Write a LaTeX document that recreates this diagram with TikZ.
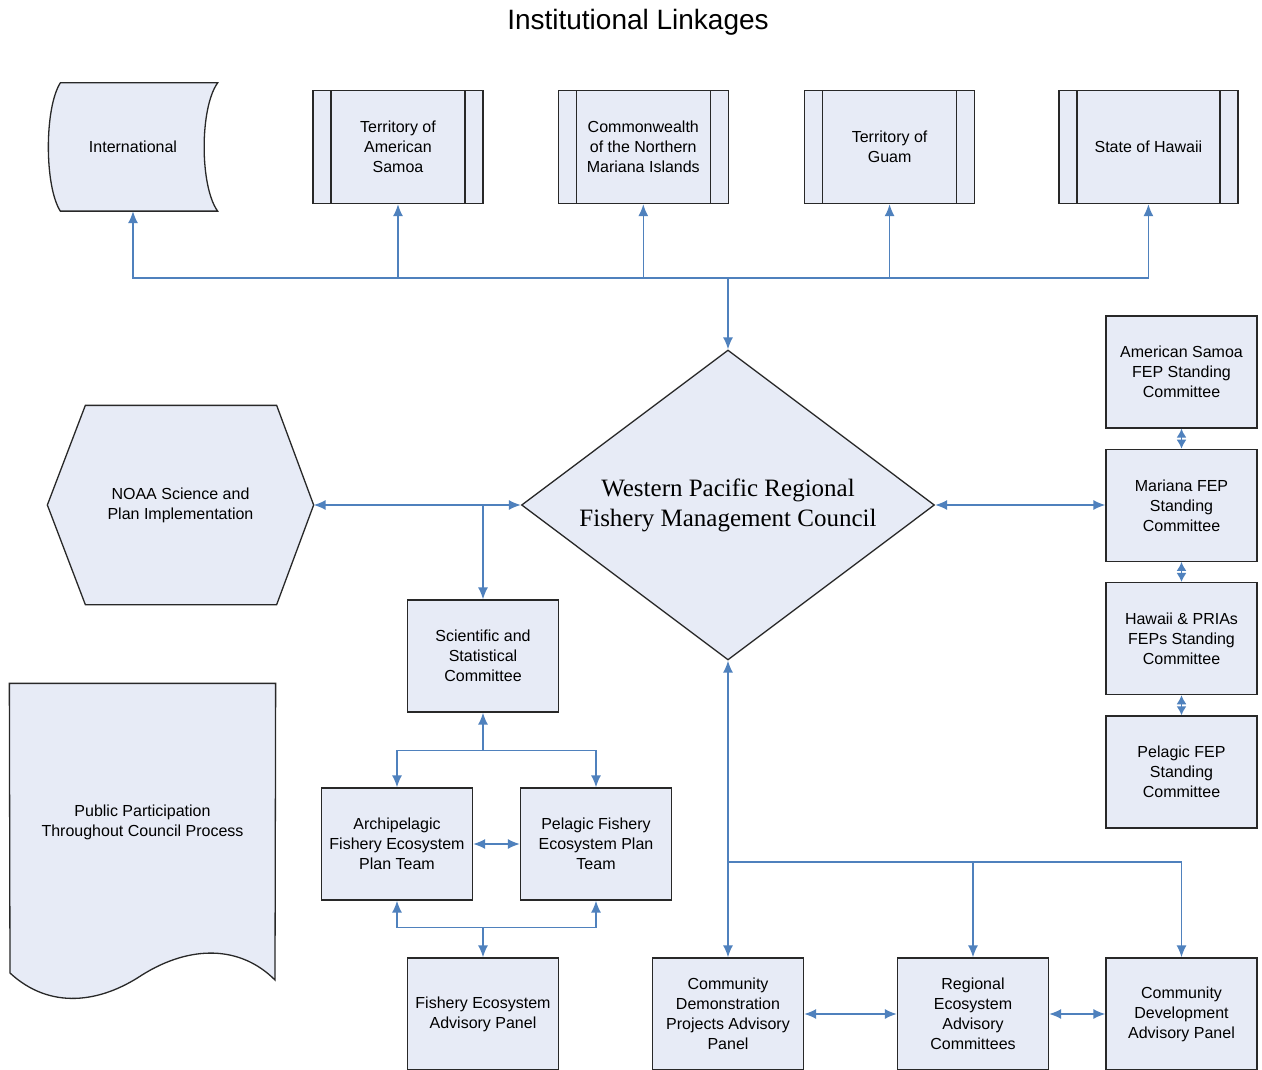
\documentclass[tikz,border=0pt]{standalone}
\usepackage{fontspec}
\setmainfont{Liberation Sans}
\newfontfamily\councilfont{Liberation Serif}
\usetikzlibrary{positioning,arrows.meta,shapes.geometric,backgrounds,calc}

\definecolor{boxfill}{RGB}{231,235,246}
\definecolor{linkblue}{RGB}{79,129,189}
\definecolor{boxline}{RGB}{40,40,40}

\tikzset{
  unit/.style={draw=boxline, line width=1.3pt, fill=boxfill, align=center,
    font=\fontsize{16}{20}\selectfont, inner sep=2pt},
  committee/.style={unit, rectangle, minimum width=151pt, minimum height=112pt},
  agency/.style={unit, rectangle, minimum width=170pt, minimum height=113pt,
    path picture={\draw[boxline, line width=1.3pt]
      ([xshift=18pt]path picture bounding box.north west) -- ([xshift=18pt]path picture bounding box.south west)
      ([xshift=-18pt]path picture bounding box.north east) -- ([xshift=-18pt]path picture bounding box.south east);}},
  freeform/.style={unit, draw=none, fill=none},
  outline/.style={draw=boxline, line width=1.3pt, fill=boxfill},
  link/.style={draw=linkblue, line width=1.5pt, -{Latex[length=12pt,width=10pt]}},
  twoway/.style={draw=linkblue, line width=1.5pt, {Latex[length=12pt,width=10pt]}-{Latex[length=12pt,width=10pt]}},
  shortlink/.style={draw=linkblue, line width=1.5pt, {Latex[length=9pt,width=10pt]}-{Latex[length=9pt,width=10pt]}},
}

\begin{document}
\begin{tikzpicture}[x=1pt,y=-1pt]
    \useasboundingbox (0,0) rectangle (1262,1070);
    \node[font=\fontsize{28}{34}\selectfont] (title) at (638,22) {Institutional Linkages};

    % top row
    \node[freeform, minimum width=168pt, minimum height=127pt] (intl) at (133,147) {International};
    \node[agency] (samoa) at (398,147) {Territory of\\American\\Samoa};
    \node[agency, right=74pt of samoa] (cnmi) {Commonwealth\\of the Northern\\Mariana Islands};
    \node[agency, right=75pt of cnmi] (guam) {Territory of\\Guam};
    \node[agency, minimum width=179pt, right=83pt of guam] (hawaii) {State of Hawaii};

    % council and left side
    \node[unit, diamond, aspect=1.33, minimum width=413pt, minimum height=310pt, inner sep=0pt,
          font=\councilfont\fontsize{25}{30}\selectfont] (council) at (728,505)
          {Western Pacific Regional\\Fishery Management Council};
    \node[freeform, minimum width=265pt, minimum height=198pt] (noaa) at (180.5,505) {NOAA Science and\\Plan Implementation};
    \node[freeform, minimum width=265pt, minimum height=276pt] (public) at (142.5,822) {Public Participation\\Throughout Council Process};

    \node[committee] (ssc) at (483,656) {Scientific and\\Statistical\\Committee};
    \node[committee] (archteam) at (397,844) {Archipelagic\\Fishery Ecosystem\\Plan Team};
    \node[committee] (pelteam) at (596,844) {Pelagic Fishery\\Ecosystem Plan\\Team};
    \node[committee] (feap) at (483,1014) {Fishery Ecosystem\\Advisory Panel};

    % right column
    \node[committee] (ascomm) at (1181.5,372) {American Samoa\\FEP Standing\\Committee};
    \node[committee, below=20pt of ascomm] (marcomm) {Mariana FEP\\Standing\\Committee};
    \node[committee, below=20pt of marcomm] (hawcomm) {Hawaii \& PRIAs\\FEPs Standing\\Committee};
    \node[committee, below=20pt of hawcomm] (pelcomm) {Pelagic FEP\\Standing\\Committee};

    % bottom row
    \node[committee] (cdpap) at (728,1014) {Community\\Demonstration\\Projects Advisory\\Panel};
    \node[committee] (reac) at (973,1014) {Regional\\Ecosystem\\Advisory\\Committees};
    \node[committee] (cdap) at (1181.5,1014) {Community\\Development\\Advisory Panel};

    % odd outlines
    \begin{scope}[on background layer]
        \fill[white] (0,0) rectangle (1262,1070);
        \draw[outline] ($(intl.north west)+(12,0)$) -- (intl.north east)
            .. controls ($(intl.north east)+(-18,25)$) and ($(intl.south east)+(-18,-25)$) .. (intl.south east)
            -- ($(intl.south west)+(12,0)$)
            .. controls ($(intl.south west)+(-4,-25)$) and ($(intl.north west)+(-4,25)$) .. cycle;
        \draw[outline] (noaa.west) -- ($(noaa.north west)+(38,0)$) -- ($(noaa.north east)+(-37,0)$)
            -- (noaa.east) -- ($(noaa.south east)+(-37,0)$) -- ($(noaa.south west)+(38,0)$) -- cycle;
        \draw[outline] (public.north west) -- (public.north east) -- (275,980)
            .. controls (240,945) and (190,945) .. (142,975)
            .. controls (100,1003) and (50,1010) .. (10,973) -- cycle;
    \end{scope}

    % links to the top row
    \coordinate (hub) at (728,278);
    \draw[link] (hub) -- (council.north);
    \foreach \n in {intl,samoa,cnmi,guam,hawaii}
        \draw[link] (hub) -| (\n.south);

    % science side
    \draw[twoway] (council.west) -- (noaa.east);
    \coordinate (sscjoin) at (ssc.north |- council.west);
    \draw[link] (sscjoin) -- (ssc.north);
    \coordinate (teambus) at ($(ssc.south)+(0,38)$);
    \draw[link] (teambus) -- (ssc.south);
    \draw[link] (teambus) -| (archteam.north);
    \draw[link] (teambus) -| (pelteam.north);
    \draw[twoway] (archteam) -- (pelteam);
    \coordinate (panelbus) at ($(feap.north)+(0,-30)$);
    \draw[link] (panelbus) -- (feap.north);
    \draw[link] (panelbus) -| (archteam.south);
    \draw[link] (panelbus) -| (pelteam.south);

    % standing committees
    \draw[twoway] (council.east) -- (council.east -| marcomm.west);
    \draw[shortlink] (ascomm) -- (marcomm);
    \draw[shortlink] (marcomm) -- (hawcomm);
    \draw[shortlink] (hawcomm) -- (pelcomm);

    % advisory bodies
    \draw[twoway] (council.south) -- (cdpap.north);
    \coordinate (advbus) at (728,862);
    \draw[link] (advbus) -| (reac.north);
    \draw[link] (advbus) -| (cdap.north);
    \draw[twoway] (cdpap) -- (reac);
    \draw[twoway] (reac) -- (cdap);
\end{tikzpicture}
\end{document}
